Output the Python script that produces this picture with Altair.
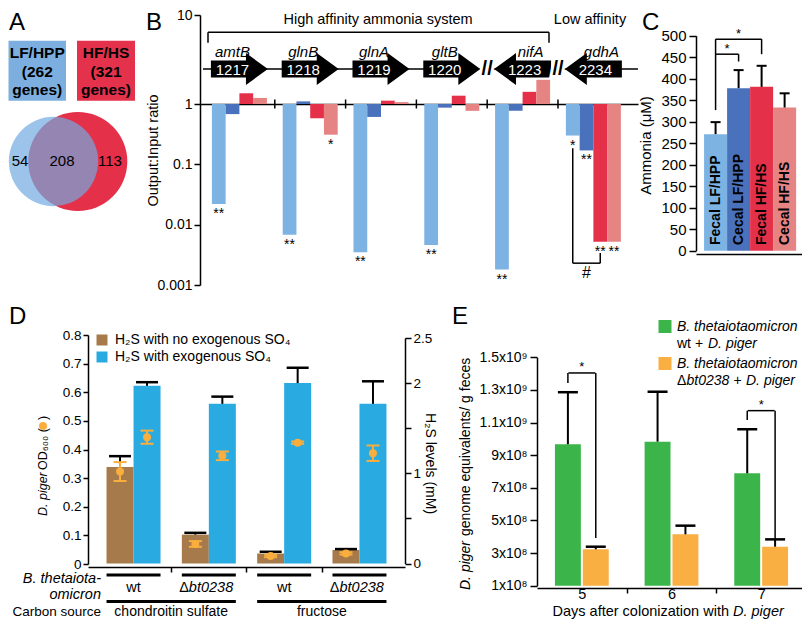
import altair as alt
import pandas as pd

# ======================= DATA =======================
# Panel A
venn_sets = ["LF/HPP", "HF/HS"]
venn_set_sizes = [262, 321]
venn_regions = ["LF/HPP only", "shared", "HF/HS only"]
venn_counts = [54, 208, 113]

# Panel B
genes = ["amtB", "glnB", "glnA", "gltB", "nifA", "gdhA"]
gene_ids = ["1217", "1218", "1219", "1220", "1223", "2234"]
gene_strand = ["+", "+", "+", "+", "-", "-"]
groups4 = ["Fecal LF/HPP", "Cecal LF/HPP", "Fecal HF/HS", "Cecal HF/HS"]
ratio_fecal_lf = [0.022, 0.0068, 0.0035, 0.0046, 0.0018, 0.30]
ratio_cecal_lf = [0.68, 1.07, 0.61, 0.87, 0.77, 0.17]
ratio_fecal_hf = [1.32, 0.58, 1.09, 1.24, 1.37, 0.0052]
ratio_cecal_hf = [1.17, 0.31, 1.05, 0.77, 1.87, 0.0052]
sig_fecal_lf = ["**", "**", "**", "**", "**", "*"]
sig_cecal_lf = ["", "", "", "", "", "**"]
sig_fecal_hf = ["", "", "", "", "", "**"]
sig_cecal_hf = ["", "*", "", "", "", "**"]

# Panel C
ammonia = [271, 378, 381, 333]
ammonia_sem = [28, 42, 49, 33]

# Panel D
d_strain = ["wt", "Δbt0238", "wt", "Δbt0238"]
d_carbon = ["chondroitin sulfate", "chondroitin sulfate", "fructose", "fructose"]
d_conditions = ["H₂S with no exogenous SO₄", "H₂S with exogenous SO₄"]
h2s_no_so4 = [1.07, 0.32, 0.11, 0.15]
h2s_no_so4_err = [0.12, 0.02, 0.02, 0.01]
h2s_so4 = [1.97, 1.77, 2.00, 1.77]
h2s_so4_err = [0.04, 0.08, 0.17, 0.25]
od_no_so4 = [0.323, 0.070, 0.028, 0.037]
od_no_so4_err = [0.033, 0.010, 0.004, 0.004]
od_so4 = [0.443, 0.378, 0.424, 0.387]
od_so4_err = [0.023, 0.015, 0.004, 0.027]

# Panel E
days = ["5", "6", "7"]
e_strains = ["wt", "Δbt0238"]
dp_wt = [9.67e8, 9.83e8, 7.89e8]
dp_wt_err = [3.19e8, 3.06e8, 2.70e8]
dp_mut = [3.23e8, 4.15e8, 3.39e8]
dp_mut_err = [0.16e8, 0.53e8, 0.45e8]

# ======================= LAYOUT / STYLE =======================
M = 8
W, H = 794, 612
def px(v):
    return v - M

FONT = "Liberation Sans"
COL4 = ["#7DB3E3", "#4A72BC", "#E5304A", "#E68383"]
D_COLS = ["#A67A4B", "#29AAE1"]
D_PT = "#F9AE3E"
E_COLS = ["#3BB54A", "#F9AF42"]

layers = []

def T(text, x, y, size=14, align="center", baseline="middle", style="normal",
      weight="normal", color="black", angle=0):
    return alt.Chart(pd.DataFrame({"t": [text]})).mark_text(
        align=align, baseline=baseline, fontSize=size, fontStyle=style,
        fontWeight=weight, color=color, angle=angle, font=FONT
    ).encode(text="t:N", x=alt.value(px(x)), y=alt.value(px(y)))

def RULE(x1, y1, x2, y2, w=1.5, color="black"):
    return alt.Chart(pd.DataFrame({"k": [0]})).mark_rule(strokeWidth=w, color=color).encode(
        x=alt.value(px(x1)), x2=alt.value(px(x2)), y=alt.value(px(y1)), y2=alt.value(px(y2)))

# ---------- panel letters ----------
for letter, lx, ly in [("A", 9, 30), ("B", 146, 30), ("C", 642, 30), ("D", 9, 324), ("E", 452, 324)]:
    layers.append(T(letter, lx, ly, size=24, align="left", baseline="alphabetic"))

# ======================= PANEL A =======================
a_box = pd.DataFrame({"set": venn_sets, "n": venn_set_sizes})
a_box["x1"] = [px(8.5), px(77)]
a_box["x2"] = [px(66), px(135)]
a_box["xc"] = (a_box["x1"] + a_box["x2"]) / 2
a_box["color"] = ["#7CAFDF", "#E4324D"]
layers.append(alt.Chart(a_box).mark_rect().encode(
    x=alt.X("x1:Q", scale=None), x2="x2:Q",
    y=alt.value(px(40.7)), y2=alt.value(px(100.7)),
    color=alt.Color("color:N", scale=None)))
a_lines = []
for _, r in a_box.iterrows():
    for txt_, ly in [(r["set"], 53), (f"({r['n']}", 72), ("genes)", 90)]:
        a_lines.append({"xc": r["xc"], "y": px(ly), "t": txt_})
layers.append(alt.Chart(pd.DataFrame(a_lines)).mark_text(fontWeight="bold", fontSize=15.5,
                                                         font=FONT).encode(
    x=alt.X("xc:Q", scale=None), y=alt.Y("y:Q", scale=None), text="t:N"))

venn_k = 2.763
venn_cx = {"LF/HPP": 53.5, "HF/HS": 77.8}
venn_fill = {"LF/HPP": ("#72A9E0", 0.7), "HF/HS": ("#E5304A", 1.0)}
for s in ["HF/HS", "LF/HPP"]:
    n = venn_set_sizes[venn_sets.index(s)]
    r = venn_k * n ** 0.5
    col, op = venn_fill[s]
    layers.append(alt.Chart(pd.DataFrame({"set": [s]})).mark_circle(
        size=(2 * r) ** 2, color=col, opacity=op, strokeWidth=0).encode(
        x=alt.value(px(venn_cx[s])), y=alt.value(px(161.5))))
for cnt, vx in zip(venn_counts, [20, 62, 110]):
    layers.append(T(str(cnt), vx, 161, size=15))

# ======================= PANEL B =======================
B_PI, B_PO = 0.223, 0.205
B_STEP = (638 - 200) / (6 - B_PI + 2 * B_PO)
B_BW = B_STEP * (1 - B_PI)
B_X = alt.Scale(type="band", domain=genes, range=[px(200), px(638)], paddingInner=B_PI,
                paddingOuter=B_PO, align=0.41)
B_XO = alt.Scale(type="band", domain=groups4, range=[0, B_BW], paddingInner=0, paddingOuter=0)
B_Y = alt.Scale(type="log", domain=[0.001, 1, 10], range=[px(285), px(104), px(15)], nice=False)

b_rows = []
series_vals = [ratio_fecal_lf, ratio_cecal_lf, ratio_fecal_hf, ratio_cecal_hf]
series_sig = [sig_fecal_lf, sig_cecal_lf, sig_fecal_hf, sig_cecal_hf]
for j, grp in enumerate(groups4):
    for i, g in enumerate(genes):
        b_rows.append({"gene": g, "group": grp, "ratio": series_vals[j][i],
                       "sig": series_sig[j][i], "color": COL4[j], "base": 1.0})
b_df = pd.DataFrame(b_rows)

bx = alt.X("gene:N", scale=B_X, axis=None)
bxo = alt.XOffset("group:N", scale=B_XO)
by = alt.Y("ratio:Q", scale=B_Y, axis=None)

layers.append(alt.Chart(b_df).mark_bar().encode(
    x=alt.X("gene:N", scale=B_X, axis=alt.Axis(orient="bottom", offset=px(104) - H, labels=False,
                                               ticks=False, title=None, domainWidth=1.5)),
    xOffset=bxo,
    y=alt.Y("ratio:Q", scale=B_Y, axis=alt.Axis(
        orient="left", offset=-px(200), values=[0.001, 0.01, 0.1, 1, 10], format="~g",
        tickSize=6, labelPadding=2, labelFontSize=14, title="Output:Input ratio",
        titleFontSize=14.5, titleAngle=270, titleX=153 - 200, titleY=px(150),
        titleAlign="center", titleBaseline="middle")),
    y2="base:Q",
    color=alt.Color("color:N", scale=None)))

# baseline ticks between gene groups
layers.append(alt.Chart(pd.DataFrame({"gene": genes[1:]})).mark_tick(
    orient="vertical", size=9, thickness=1.5, color="black", opacity=1, xOffset=-B_STEP / 2).encode(
    x=bx, y=alt.YDatum(1, scale=B_Y, axis=None)))

# gene diagram
layers.append(RULE(203, 69, 638, 69))
ARROW_R = "M-1,-0.3L0.23,-0.3L0.23,-0.56L1,0L0.23,0.56L0.23,0.3L-1,0.3Z"
ARROW_L = "M1,-0.3L-0.23,-0.3L-0.23,-0.56L-1,0L-0.23,0.56L-0.23,0.3L1,0.3Z"
g_df = pd.DataFrame({"gene": genes, "gid": gene_ids, "strand": gene_strand})
g_df["shape"] = g_df["strand"].map({"+": ARROW_R, "-": ARROW_L})
layers.append(alt.Chart(g_df).mark_point(filled=True, color="black", opacity=1, size=57 ** 2,
                                         strokeWidth=0).encode(
    x=bx, y=alt.value(px(69)), shape=alt.Shape("shape:N", scale=None)))
for strand, dxn, dxi in [("+", -7, -7), ("-", 8, 2)]:
    sub = g_df[g_df["strand"] == strand]
    layers.append(alt.Chart(sub).mark_text(fontStyle="italic", fontSize=15, dx=dxn, font=FONT).encode(
        x=bx, y=alt.value(px(52)), text="gene:N"))
    layers.append(alt.Chart(sub).mark_text(fontSize=15, color="white", dx=dxi, font=FONT).encode(
        x=bx, y=alt.value(px(70)), text="gid:N"))
brk = pd.DataFrame({"gene": ["nifA", "gdhA"]})
for col, sw in [("white", 6), ("black", 0)]:
    layers.append(alt.Chart(brk).mark_text(text="//", fontSize=20, fontWeight="bold", color=col,
                                           stroke=col, strokeWidth=sw, xOffset=-B_STEP / 2,
                                           font=FONT).encode(x=bx, y=alt.value(px(69))))
# system bracket
layers.append(RULE(208, 32.3, 549, 32.3))
layers.append(RULE(208, 32.3, 208, 42.7))
layers.append(RULE(549, 32.3, 549, 42.7))
layers.append(T("High affinity ammonia system", 378, 20, size=14.5))
layers.append(T("Low affinity", 590, 20, size=14.5))

# significance stars
layers.append(alt.Chart(b_df[b_df["sig"] != ""]).mark_text(baseline="top", dy=3, fontSize=14,
                                                           font=FONT).encode(
    x=bx, xOffset=bxo, y=by, text="sig:N"))
# '#' bracket (gdhA)
hash_v = pd.DataFrame({"gene": ["gdhA", "gdhA"], "group": ["Fecal LF/HPP", "Fecal HF/HS"],
                       "y1": [0.185, 0.0034], "y2": [0.0023, 0.0023]})
layers.append(alt.Chart(hash_v).mark_rule(strokeWidth=1.5, color="black").encode(
    x=bx, xOffset=bxo, y=alt.Y("y1:Q", scale=B_Y, axis=None), y2="y2:Q"))
hash_h = pd.DataFrame({"gene": ["gdhA"], "group": ["Cecal LF/HPP"], "y": [0.0023], "t": ["#"],
                       "yt": [0.00158]})
layers.append(alt.Chart(hash_h).mark_tick(orient="horizontal", size=2 * B_BW / 4, thickness=1.5,
                                          color="black", opacity=1).encode(
    x=bx, xOffset=bxo, y=alt.Y("y:Q", scale=B_Y, axis=None)))
layers.append(alt.Chart(hash_h).mark_text(fontSize=16, font=FONT).encode(
    x=bx, xOffset=bxo, y=alt.Y("yt:Q", scale=B_Y, axis=None), text="t:N"))

# ======================= PANEL C =======================
C_X = alt.Scale(type="band", domain=groups4, range=[px(696), px(806)], paddingInner=0,
                paddingOuter=0.39, align=0.45)
C_STEP = (806 - 696) / (4 + 2 * 0.39)
C_Y = alt.Scale(domain=[0, 500], range=[px(250.7), px(35.7)], nice=False)
c_df = pd.DataFrame({"group": groups4, "nh3": ammonia, "sem": ammonia_sem, "color": COL4})
c_df["hi"] = c_df["nh3"] + c_df["sem"]
cx = alt.X("group:N", scale=C_X, axis=None)

layers.append(alt.Chart(c_df).mark_bar().encode(
    x=alt.X("group:N", scale=C_X, axis=alt.Axis(orient="bottom", offset=px(254) - H, labels=False,
                                                ticks=False, title=None, domainWidth=1.5)),
    y=alt.Y("nh3:Q", scale=C_Y, axis=alt.Axis(
        orient="left", offset=-px(696), values=list(range(0, 501, 50)), tickSize=7,
        labelPadding=3, labelFontSize=15, title="Ammonia (μM)", titleFontSize=15,
        titleAngle=270, titleX=645 - 696, titleY=px(145), titleAlign="center",
        titleBaseline="middle")),
    color=alt.Color("color:N", scale=None)))
layers.append(alt.Chart(c_df).mark_rule(strokeWidth=2, color="black").encode(
    x=cx, y=alt.Y("nh3:Q", scale=C_Y, axis=None), y2="hi:Q"))
layers.append(alt.Chart(c_df).mark_tick(orient="horizontal", size=10, thickness=2, color="black",
                                        opacity=1).encode(
    x=cx, y=alt.Y("hi:Q", scale=C_Y, axis=None)))
layers.append(alt.Chart(c_df).mark_text(angle=270, align="left", baseline="middle", fontSize=14,
                                        fontWeight="bold", font=FONT).encode(
    x=cx, y=alt.value(px(245)), text="group:N"))
# significance brackets
c_v = pd.DataFrame({"group": ["Fecal LF/HPP", "Cecal LF/HPP", "Fecal HF/HS"],
                    "y1": [327, 440, 457], "y2": [492, 457, 492]})
layers.append(alt.Chart(c_v).mark_rule(strokeWidth=1.5, color="black").encode(
    x=cx, y=alt.Y("y1:Q", scale=C_Y, axis=None), y2="y2:Q"))
c_h1 = pd.DataFrame({"group": ["Fecal LF/HPP"], "y": [457], "t": ["*"]})
layers.append(alt.Chart(c_h1).mark_tick(orient="horizontal", size=C_STEP, thickness=1.5, color="black",
                                        opacity=1, xOffset=C_STEP / 2).encode(
    x=cx, y=alt.Y("y:Q", scale=C_Y, axis=None)))
layers.append(alt.Chart(c_h1).mark_text(baseline="alphabetic", dy=-1, fontSize=13, xOffset=C_STEP / 2,
                                        font=FONT).encode(
    x=cx, y=alt.Y("y:Q", scale=C_Y, axis=None), text="t:N"))
c_h2 = pd.DataFrame({"group": ["Cecal LF/HPP"], "y": [492], "t": ["*"]})
layers.append(alt.Chart(c_h2).mark_tick(orient="horizontal", size=2 * C_STEP, thickness=1.5,
                                        color="black", opacity=1).encode(
    x=cx, y=alt.Y("y:Q", scale=C_Y, axis=None)))
layers.append(alt.Chart(c_h2).mark_text(baseline="alphabetic", dy=-1, fontSize=13, font=FONT).encode(
    x=cx, y=alt.Y("y:Q", scale=C_Y, axis=None), text="t:N"))

# ======================= PANEL D =======================
d_keys = [f"{c} | {s} | {i}" for i, (c, s) in enumerate(zip(d_carbon, d_strain))]
D_PI, D_PO = 0.283, 0.246
D_STEP = (405 - 88) / (4 - D_PI + 2 * D_PO)
D_BW = D_STEP * (1 - D_PI)
D_X = alt.Scale(type="band", domain=d_keys, range=[px(88), px(405)], paddingInner=D_PI,
                paddingOuter=D_PO)
D_XO = alt.Scale(type="band", domain=d_conditions, range=[0, D_BW], paddingInner=0, paddingOuter=0)
D_YR = alt.Scale(domain=[0, 2.5], range=[px(563.5), px(338)], nice=False)
D_YL = alt.Scale(domain=[0, 0.8], range=[px(564), px(335)], nice=False)

d_rows = []
for i, k in enumerate(d_keys):
    d_rows.append({"key": k, "cond": d_conditions[0], "h2s": h2s_no_so4[i], "h2s_err": h2s_no_so4_err[i],
                   "od": od_no_so4[i], "od_err": od_no_so4_err[i]})
    d_rows.append({"key": k, "cond": d_conditions[1], "h2s": h2s_so4[i], "h2s_err": h2s_so4_err[i],
                   "od": od_so4[i], "od_err": od_so4_err[i]})
d_df = pd.DataFrame(d_rows)
d_df["h2s_hi"] = d_df["h2s"] + d_df["h2s_err"]
d_df["od_lo"] = d_df["od"] - d_df["od_err"]
d_df["od_hi"] = d_df["od"] + d_df["od_err"]

dx_ = alt.X("key:N", scale=D_X, axis=None)
dxo = alt.XOffset("cond:N", scale=D_XO)

layers.append(alt.Chart(d_df).mark_bar().encode(
    x=alt.X("key:N", scale=D_X, axis=alt.Axis(
        orient="bottom", offset=px(567) - H, values=d_keys[:3], bandPosition=1,
        tickOffset=D_PI * D_STEP / 2, labels=False, tickSize=5, title=None, domainWidth=1.5)),
    xOffset=dxo,
    y=alt.Y("h2s:Q", scale=D_YR, axis=alt.Axis(
        orient="right", offset=px(405) - W, values=[0, 0.5, 1, 1.5, 2, 2.5], format="~g",
        labelExpr="datum.value == 0.5 || datum.value == 1.5 ? '' : datum.label",
        tickSize=6, labelPadding=2, labelFontSize=13.5, title="H₂S levels (mM)",
        titleFontSize=14, titleAngle=90, titleX=429 - 405, titleY=px(463),
        titleAlign="center", titleBaseline="middle")),
    color=alt.Color("cond:N", scale=alt.Scale(domain=d_conditions, range=D_COLS),
                    legend=alt.Legend(orient="none", legendX=px(95), legendY=px(333), title=None,
                                      symbolType="square", symbolSize=121, symbolStrokeWidth=0,
                                      labelFontSize=14, labelOffset=6, rowPadding=3, padding=0,
                                      labelLimit=400, labelFont=FONT))))
layers.append(alt.Chart(d_df).mark_rule(strokeWidth=2, color="black").encode(
    x=dx_, xOffset=dxo, y=alt.Y("h2s:Q", scale=D_YR, axis=None), y2="h2s_hi:Q"))
layers.append(alt.Chart(d_df).mark_tick(orient="horizontal", size=22, thickness=2.5, color="black",
                                        opacity=1).encode(
    x=dx_, xOffset=dxo, y=alt.Y("h2s_hi:Q", scale=D_YR, axis=None)))

# OD600 points (left axis)
layers.append(alt.Chart(d_df).mark_rule(strokeWidth=2, color=D_PT).encode(
    x=dx_, xOffset=dxo, y=alt.Y("od_lo:Q", scale=D_YL, axis=None), y2="od_hi:Q"))
layers.append(alt.Chart(d_df).mark_circle(size=64, color=D_PT, opacity=1).encode(
    x=dx_, xOffset=dxo,
    y=alt.Y("od:Q", scale=D_YL, axis=alt.Axis(
        orient="left", offset=-px(88), values=[round(0.1 * i, 1) for i in range(9)], format="~g",
        tickSize=5, labelPadding=2, labelFontSize=13.5, title=None))))
for fld in ["od_lo", "od_hi"]:
    layers.append(alt.Chart(d_df).mark_tick(orient="horizontal", size=13, thickness=2, color=D_PT,
                                            opacity=1).encode(
        x=dx_, xOffset=dxo, y=alt.Y(f"{fld}:Q", scale=D_YL, axis=None)))

# left title pieces
layers.append(T("D. piger", 43, 516, size=12.5, align="left", style="italic", angle=270))
layers.append(T("OD₆₀₀ (", 43, 470, size=12.5, align="left", angle=270))
layers.append(alt.Chart(pd.DataFrame({"k": [0]})).mark_circle(size=64, color=D_PT, opacity=1).encode(
    x=alt.value(px(43)), y=alt.value(px(426))))
layers.append(T(")", 43, 420, size=12.5, align="left", angle=270))

# category annotations
dg = pd.DataFrame({"key": d_keys, "strain": d_strain, "carbon": d_carbon})
layers.append(alt.Chart(dg).mark_tick(orient="horizontal", size=D_BW, thickness=3, color="black",
                                      opacity=1).encode(x=dx_, y=alt.value(px(575))))
layers.append(alt.Chart(dg[dg["strain"] == "wt"]).mark_text(fontSize=14.5, font=FONT).encode(
    x=dx_, y=alt.value(px(588)), text="strain:N"))
dmut = dg[dg["strain"] != "wt"].copy()
dmut["delta"] = dmut["strain"].str[0]
dmut["rest"] = dmut["strain"].str[1:]
layers.append(alt.Chart(dmut).mark_text(fontSize=14.5, align="right", dx=-20, font=FONT).encode(
    x=dx_, y=alt.value(px(588)), text="delta:N"))
layers.append(alt.Chart(dmut).mark_text(fontSize=14.5, align="left", dx=-20, fontStyle="italic",
                                        font=FONT).encode(
    x=dx_, y=alt.value(px(588)), text="rest:N"))
dcarb = dg.iloc[[0, 2]]
layers.append(alt.Chart(dcarb).mark_tick(orient="horizontal", size=D_STEP + D_BW, thickness=3,
                                         color="black", opacity=1, xOffset=D_STEP / 2).encode(
    x=dx_, y=alt.value(px(601.5))))
layers.append(alt.Chart(dcarb).mark_text(fontSize=14, xOffset=D_STEP / 2, font=FONT).encode(
    x=dx_, y=alt.value(px(611.5)), text="carbon:N"))
layers.append(T("B. thetaiota-", 101, 579, size=14.5, align="right", style="italic"))
layers.append(T("omicron", 101, 595, size=14.5, align="right", style="italic"))
layers.append(T("Carbon source", 101, 611.5, size=13.5, align="right"))

# ======================= PANEL E =======================
E_PI, E_PO = 0.4, 0.2
E_STEP = (806 - 537) / (3 - E_PI + 2 * E_PO)
E_BW = E_STEP * (1 - E_PI)
E_X = alt.Scale(type="band", domain=days, range=[px(537), px(806)], paddingInner=E_PI, paddingOuter=E_PO)
E_XO = alt.Scale(type="band", domain=e_strains, range=[0, E_BW], paddingInner=0.07, paddingOuter=0)
E_Y = alt.Scale(domain=[1e8, 1.5e9], range=[px(585.7), px(357.3)], nice=False, zero=False)

e_rows = []
for i, d in enumerate(days):
    e_rows.append({"day": d, "strain": e_strains[0], "val": dp_wt[i], "err": dp_wt_err[i],
                   "color": E_COLS[0], "base": 1e8})
    e_rows.append({"day": d, "strain": e_strains[1], "val": dp_mut[i], "err": dp_mut_err[i],
                   "color": E_COLS[1], "base": 1e8})
e_df = pd.DataFrame(e_rows)
e_df["hi"] = e_df["val"] + e_df["err"]
ex = alt.X("day:N", scale=E_X, axis=None)
exo = alt.XOffset("strain:N", scale=E_XO)

layers.append(alt.Chart(e_df).mark_bar().encode(
    x=alt.X("day:N", scale=E_X, axis=alt.Axis(
        orient="bottom", offset=px(588) - H, bandPosition=1, tickOffset=E_PI * E_STEP / 2,
        labelOffset=-E_PI * E_STEP / 2, tickSize=5, labelPadding=-6, labelFontSize=14.5,
        labelAngle=0, title=None, domainWidth=1.5)),
    xOffset=exo,
    y=alt.Y("val:Q", scale=E_Y, axis=alt.Axis(
        orient="left", offset=-px(537), values=[1e8, 3e8, 5e8, 7e8, 9e8, 1.1e9, 1.3e9, 1.5e9],
        labelExpr="datum.value >= 1e9 ? format(datum.value / 1e9, '.1~f') + 'x10⁹' : format(datum.value / 1e8, '~g') + 'x10⁸'",
        tickSize=7, labelPadding=3, labelFontSize=14, title=None)),
    y2="base:Q",
    color=alt.Color("color:N", scale=None)))
layers.append(alt.Chart(e_df).mark_rule(strokeWidth=2, color="black").encode(
    x=ex, xOffset=exo, y=alt.Y("val:Q", scale=E_Y, axis=None), y2="hi:Q"))
layers.append(alt.Chart(e_df).mark_tick(orient="horizontal", size=20, thickness=2.5, color="black",
                                        opacity=1).encode(
    x=ex, xOffset=exo, y=alt.Y("hi:Q", scale=E_Y, axis=None)))
# significance brackets
e_v = pd.DataFrame({"day": ["5", "5", "7", "7"], "strain": [e_strains[0], e_strains[1]] * 2,
                    "y1": [1.342e9, 3.92e8, 1.116e9, 3.70e8],
                    "y2": [1.404e9, 1.404e9, 1.173e9, 1.173e9]})
layers.append(alt.Chart(e_v).mark_rule(strokeWidth=1.5, color="black").encode(
    x=ex, xOffset=exo, y=alt.Y("y1:Q", scale=E_Y, axis=None), y2="y2:Q"))
e_h = pd.DataFrame({"day": ["5", "7"], "y": [1.404e9, 1.173e9], "t": ["*", "*"]})
layers.append(alt.Chart(e_h).mark_tick(orient="horizontal", size=E_BW / 2, thickness=1.5,
                                       color="black", opacity=1).encode(
    x=ex, y=alt.Y("y:Q", scale=E_Y, axis=None)))
layers.append(alt.Chart(e_h).mark_text(baseline="alphabetic", dy=-2, fontSize=13, font=FONT).encode(
    x=ex, y=alt.Y("y:Q", scale=E_Y, axis=None), text="t:N"))

# legend (manual, mixed italics)
e_leg = pd.DataFrame({"s": e_strains, "color": E_COLS, "y": [px(326.5), px(363.5)]})
layers.append(alt.Chart(e_leg).mark_square(size=169, opacity=1).encode(
    x=alt.value(px(665)), y=alt.Y("y:Q", scale=None), color=alt.Color("color:N", scale=None)))
layers.append(T("B. thetaiotaomicron", 677, 327, size=14, align="left", style="italic"))
layers.append(T("wt +", 677, 344, size=14, align="left"))
layers.append(T("D. piger", 708, 344, size=14, align="left", style="italic"))
layers.append(T("B. thetaiotaomicron", 677, 364, size=14, align="left", style="italic"))
layers.append(T("Δ", 677, 381, size=14, align="left"))
layers.append(T("bt0238", 686.5, 381, size=14, align="left", style="italic"))
layers.append(T("+", 733.5, 381, size=14, align="left"))
layers.append(T("D. piger", 746, 381, size=14, align="left", style="italic"))

# axis titles (manual, mixed italics)
layers.append(T("Days after colonization with", 729, 612, size=14.5, align="right"))
layers.append(T("D. piger", 733, 612, size=14.5, align="left", style="italic"))
layers.append(T("D. piger", 466, 590, size=14, align="left", style="italic", angle=270))
layers.append(T("genome equivalents/ g feces", 466, 536, size=14, align="left", angle=270))

# ======================= ASSEMBLE =======================
chart = alt.layer(*layers).resolve_scale(
    x="independent", y="independent", xOffset="independent", color="independent",
    shape="independent", size="independent"
).properties(
    width=W, height=H, padding=0, autosize=alt.AutoSizeParams(type="none"), background="white"
).configure(font=FONT).configure_view(stroke=None).configure_axis(
    labelFont=FONT, titleFont=FONT, labelColor="black", titleColor="black", domainColor="black",
    tickColor="black", grid=False, titleFontWeight="normal", domainWidth=1.5, tickWidth=1.5
).configure_legend(labelFont=FONT, labelColor="black")

chart.save("out.html", embed_options={"renderer": "svg", "actions": False})
